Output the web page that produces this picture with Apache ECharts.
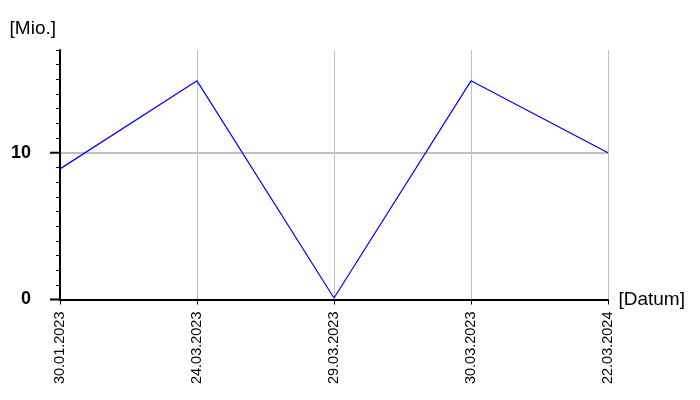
<!DOCTYPE html>
<html><head><meta charset="utf-8">
<script src="https://cdn.jsdelivr.net/npm/echarts@6/dist/echarts.min.js"></script>
<style>html,body{margin:0;padding:0;background:#fff}#c{width:700px;height:400px}</style>
</head><body><div id="c"></div>
<script>
const categories = ['30.01.2023', '24.03.2023', '29.03.2023', '30.03.2023', '22.03.2024'];
const values = [8.9, 14.9, 0.1, 14.9, 10.0];
const yMajorTicks = [0, 10];
const yMin = 0, yMax = 17;

const splitColors = [];
for (let v = yMin; v <= yMax; v++) splitColors.push(v === 10 ? '#c0c0c0' : 'rgba(0,0,0,0)');

const chart = echarts.init(document.getElementById('c'), null, {renderer: 'canvas'});
chart.setOption({
  animation: false,
  backgroundColor: '#fff',
  grid: {left: 60, right: 92, top: 50, bottom: 100.5, containLabel: false},
  xAxis: {
    type: 'category',
    data: categories,
    boundaryGap: false,
    name: '[Datum]',
    nameLocation: 'end',
    nameGap: 9,
    nameTextStyle: {fontFamily: 'Liberation Sans', fontSize: 19, color: '#000', align: 'left', verticalAlign: 'middle'},
    axisLine: {lineStyle: {color: '#000', width: 2}},
    axisTick: {show: true, length: 5, lineStyle: {color: '#000', width: 1}},
    axisLabel: {rotate: 90, margin: 12, fontFamily: 'Liberation Sans', fontSize: 14.5, color: '#000', interval: 0},
    splitLine: {show: true, lineStyle: {color: '#c0c0c0', width: 1}}
  },
  yAxis: {
    type: 'value',
    min: yMin, max: yMax, interval: 1,
    name: '[Mio.]',
    nameLocation: 'end',
    nameGap: 12,
    nameTextStyle: {fontFamily: 'Liberation Sans', fontSize: 19, color: '#000', align: 'right', verticalAlign: 'bottom', padding: [0, 4, 0, 0]},
    axisLine: {show: true, lineStyle: {color: '#000', width: 2}},
    axisTick: {show: true, length: 4, lineStyle: {color: '#000', width: 1}},
    axisLabel: {margin: 29, fontFamily: 'Liberation Sans', fontSize: 18, fontWeight: 'bold', color: '#000',
      formatter: v => (yMajorTicks.indexOf(v) >= 0 ? String(v) : '')},
    splitLine: {show: true, lineStyle: {color: splitColors, width: 2}}
  },
  series: [{
    type: 'line',
    data: values,
    symbol: 'none',
    lineStyle: {color: '#0000ff', width: 1.2},
    itemStyle: {color: '#0000ff'}
  }, {
    // major ticks of the value axis (length 10), placed through the axis scale
    type: 'custom',
    silent: true,
    clip: false,
    z: 10,
    data: yMajorTicks.map(v => [0, v]),
    encode: {x: 0, y: 1},
    renderItem: (params, api) => {
      const p = api.coord([api.value(0), api.value(1)]);
      return {
        type: 'line',
        shape: {x1: p[0] - 10, y1: p[1], x2: p[0], y2: p[1]},
        style: {stroke: '#000', lineWidth: 2}
      };
    }
  }]
});
</script>
</body></html>
